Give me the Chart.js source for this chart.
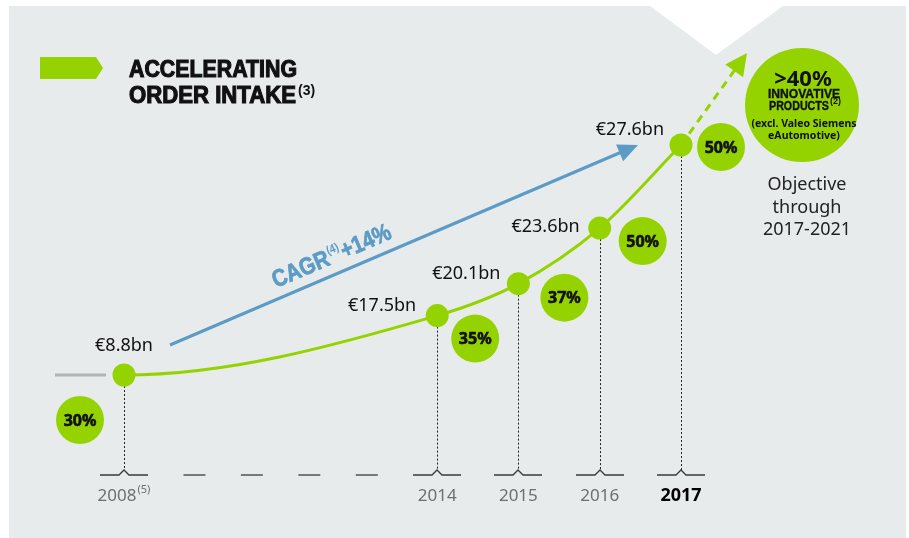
<!DOCTYPE html>
<html>
<head>
<meta charset="utf-8">
<script src="https://cdn.jsdelivr.net/npm/chart.js@4/dist/chart.umd.min.js"></script>
<style>
  html, body { margin: 0; padding: 0; background: #fff; }
  canvas { display: block; }
</style>
</head>
<body>
<canvas id="orderChart" width="909" height="538"></canvas>
<script>
// data
const years = [2008, 2014, 2015, 2016, 2017];
const yearLabels = ['2008', '2014', '2015', '2016', '2017'];
const yearNotes = ['(5)', '', '', '', ''];
const orderIntake = [8.8, 17.5, 20.1, 23.6, 27.6];          // € bn
const innovativeShare = [30, 35, 37, 50, 50];               // % of order intake
const cagr = 14;
const objectiveShare = 40;

const GREEN = '#95d300';
const BLUE = '#5b9bc6';
const BG = '#e8ebec';
const SANS = '"Noto Sans", "Open Sans", sans-serif';
const HEAVY = '"Liberation Sans", "DejaVu Sans", sans-serif';

// label placement next to each point (dx, dy, align) and share bubbles (dx, dy)
const labelOffsets = [[0, -29, 'center'], [-21, -10, 'right'], [-18, -10, 'right'], [-20, -1, 'right'], [-17, -15, 'right']];
const bubbleOffsets = [[-44, 45], [38, 23], [46, 14], [43, 13], [40, 2]];

// the x axis is broken between 2008 and 2014, the y axis is drawn as a power scale
const warps = {
    x: y => y <= 2014 ? (y - 2008) * 0.642 : 3.85 + (y - 2014),
    y: v => Math.pow(v, 2.7)
};

class WarpedScale extends Chart.LinearScale {
    getPixelForValue(value) {
        const f = warps[this.id];
        const a = f(this.min), b = f(this.max);
        return this.getPixelForDecimal((f(value) - a) / (b - a));
    }
}
WarpedScale.id = 'warped';
WarpedScale.defaults = Chart.LinearScale.defaults;
Chart.register(WarpedScale);

function fitText(ctx, text, x, y, width, stroke) {
    const w = ctx.measureText(text).width;
    ctx.save();
    ctx.translate(x, y);
    ctx.scale(width / w, 1);
    ctx.fillText(text, 0, 0);
    if (stroke) {
        ctx.lineWidth = stroke;
        ctx.strokeStyle = ctx.fillStyle;
        ctx.strokeText(text, 0, 0);
    }
    ctx.restore();
}

function arrowHead(ctx, tip, from, len, half) {
    const ang = Math.atan2(tip.y - from.y, tip.x - from.x);
    ctx.beginPath();
    ctx.moveTo(tip.x, tip.y);
    ctx.lineTo(tip.x - len * Math.cos(ang) + half * Math.sin(ang), tip.y - len * Math.sin(ang) - half * Math.cos(ang));
    ctx.lineTo(tip.x - len * Math.cos(ang) - half * Math.sin(ang), tip.y - len * Math.sin(ang) + half * Math.cos(ang));
    ctx.closePath();
    ctx.fill();
}

const decor = {
    id: 'decor',
    beforeDraw(chart) {
        const ctx = chart.ctx;
        ctx.save();
        ctx.fillStyle = '#fff';
        ctx.fillRect(0, 0, chart.width, chart.height);
        ctx.fillStyle = BG;
        ctx.fillRect(9, 6, 897, 532);
        // notch at the top
        ctx.fillStyle = '#fff';
        ctx.beginPath();
        ctx.moveTo(650, 6); ctx.lineTo(716, 55); ctx.lineTo(783, 6);
        ctx.closePath();
        ctx.fill();

        // title badge
        ctx.fillStyle = GREEN;
        ctx.beginPath();
        ctx.moveTo(40, 57); ctx.lineTo(96, 57); ctx.lineTo(103, 68); ctx.lineTo(96, 79); ctx.lineTo(40, 79);
        ctx.closePath();
        ctx.fill();

        ctx.fillStyle = '#111';
        ctx.textAlign = 'left';
        ctx.textBaseline = 'alphabetic';
        ctx.font = 'bold 23px ' + HEAVY;
        fitText(ctx, 'ACCELERATING', 129, 77, 168, 1.1);
        fitText(ctx, 'ORDER INTAKE', 129, 103, 167, 1.1);
        ctx.font = 'bold 14px ' + HEAVY;
        ctx.fillText('(3)', 298, 95);
        ctx.restore();
    },
    beforeDatasetDraw(chart, args) {
        // start the order-intake curve flat out of 2008, as in the original
        const meta = args.meta;
        const line = meta.dataset;
        const pts = meta.data;
        if (!line || pts.length < 2) return;
        line.updateControlPoints(chart.chartArea, 'x');
        pts[0].cp2y = pts[0].y;
        line._path = undefined;
    },
    beforeDatasetsDraw(chart) {
        const ctx = chart.ctx;
        const xs = chart.scales.x;
        const pts = chart.getDatasetMeta(0).data;
        const base = 475;
        ctx.save();

        // dotted drop lines
        ctx.strokeStyle = '#222';
        ctx.lineWidth = 1;
        ctx.setLineDash([2, 2]);
        pts.forEach(p => {
            ctx.beginPath();
            ctx.moveTo(Math.round(p.x) + 0.5, p.y + 11);
            ctx.lineTo(Math.round(p.x) + 0.5, base - 5);
            ctx.stroke();
        });
        ctx.setLineDash([]);

        // baseline ticks with caret
        ctx.strokeStyle = '#3a3a3a';
        ctx.lineWidth = 1.3;
        years.forEach(y => {
            const x = Math.round(xs.getPixelForValue(y));
            ctx.beginPath();
            ctx.moveTo(x - 24, base); ctx.lineTo(x - 5, base); ctx.lineTo(x, base - 5);
            ctx.lineTo(x + 5, base); ctx.lineTo(x + 24, base);
            ctx.stroke();
        });
        // break dashes between 2008 and 2014
        const x0 = xs.getPixelForValue(years[0]) + 24;
        const x1 = xs.getPixelForValue(years[1]) - 24;
        const gap = (x1 - x0 - 4 * 22) / 5;
        for (let i = 0; i < 4; i++) {
            const sx = x0 + gap * (i + 1) + 22 * i;
            ctx.beginPath();
            ctx.moveTo(sx, base); ctx.lineTo(sx + 22, base);
            ctx.stroke();
        }

        // year labels
        ctx.textBaseline = 'alphabetic';
        years.forEach((y, i) => {
            const x = xs.getPixelForValue(y);
            const last = i === years.length - 1;
            ctx.font = (last ? 'bold 18px ' : '17px ') + SANS;
            ctx.fillStyle = last ? '#000' : '#6e6e6e';
            const w = ctx.measureText(yearLabels[i]).width;
            ctx.font = '11px ' + SANS;
            const nw = yearNotes[i] ? ctx.measureText(yearNotes[i]).width + 1 : 0;
            ctx.textAlign = 'left';
            ctx.font = (last ? 'bold 18px ' : '17px ') + SANS;
            ctx.fillText(yearLabels[i], x - (w + nw) / 2, 501);
            if (nw) {
                ctx.font = '11px ' + SANS;
                ctx.fillText(yearNotes[i], x - (w + nw) / 2 + w + 1, 493);
            }
        });

        // grey lead-in line before 2008
        ctx.strokeStyle = '#b4b4b4';
        ctx.lineWidth = 3;
        ctx.beginPath();
        ctx.moveTo(55, pts[0].y); ctx.lineTo(106, pts[0].y);
        ctx.stroke();

        // CAGR arrow
        const a = { x: 170, y: 345 }, b = { x: 638, y: 145 };
        ctx.strokeStyle = BLUE;
        ctx.fillStyle = BLUE;
        ctx.lineWidth = 3;
        const ang = Math.atan2(b.y - a.y, b.x - a.x);
        ctx.beginPath();
        ctx.moveTo(a.x, a.y);
        ctx.lineTo(b.x - 14 * Math.cos(ang), b.y - 14 * Math.sin(ang));
        ctx.stroke();
        arrowHead(ctx, b, a, 20, 9);

        ctx.save();
        ctx.translate(276, 288);
        ctx.rotate(ang);
        ctx.textAlign = 'left';
        ctx.font = 'bold 24px ' + HEAVY;
        const t1 = 'CAGR';
        const w1 = ctx.measureText(t1).width * 0.85;
        fitText(ctx, t1, 0, 0, w1, 0.8);
        ctx.font = 'bold 12px ' + HEAVY;
        const sup = '(4)';
        const ws = ctx.measureText(sup).width * 0.85;
        fitText(ctx, sup, w1 + 1, -10, ws);
        ctx.font = 'bold 24px ' + HEAVY;
        const t2 = '+' + cagr + '%';
        fitText(ctx, t2, w1 + ws + 2, 0, ctx.measureText(t2).width * 0.85, 0.8);
        ctx.restore();

        // dashed projection to the objective
        const p = pts[pts.length - 1];
        const tip = { x: p.x + 66, y: p.y - 92 };
        ctx.strokeStyle = GREEN;
        ctx.fillStyle = GREEN;
        ctx.lineWidth = 3;
        ctx.setLineDash([8, 6]);
        const pa = Math.atan2(tip.y - p.y, tip.x - p.x);
        ctx.beginPath();
        ctx.moveTo(p.x, p.y);
        ctx.lineTo(tip.x - 18 * Math.cos(pa), tip.y - 18 * Math.sin(pa));
        ctx.stroke();
        ctx.setLineDash([]);
        arrowHead(ctx, tip, p, 22, 11);

        // objective bubble
        ctx.beginPath();
        ctx.arc(802, 105, 57, 0, Math.PI * 2);
        ctx.fill();
        ctx.fillStyle = '#111';
        ctx.textAlign = 'center';
        ctx.font = 'bold 22px ' + SANS;
        ctx.fillText('>' + objectiveShare + '%', 803, 86);
        ctx.textAlign = 'left';
        ctx.font = 'bold 13px ' + HEAVY;
        fitText(ctx, 'INNOVATIVE', 768, 98, 72, 0.4);
        fitText(ctx, 'PRODUCTS', 769, 110, 60, 0.4);
        ctx.font = 'bold 9px ' + HEAVY;
        ctx.fillText('(2)', 830, 104);
        ctx.textAlign = 'center';
        ctx.font = 'bold 10.5px ' + SANS;
        ctx.fillText('(excl. Valeo Siemens', 804, 127);
        ctx.fillText('eAutomotive)', 804, 139);

        ctx.fillStyle = '#222';
        ctx.font = '18px ' + SANS;
        ctx.fillText('Objective', 807, 190);
        ctx.fillText('through', 807, 213);
        ctx.fillText('2017-2021', 807, 235);
        ctx.restore();
    },
    afterDatasetsDraw(chart) {
        const ctx = chart.ctx;
        const pts = chart.getDatasetMeta(0).data;
        ctx.save();
        ctx.textBaseline = 'middle';
        pts.forEach((p, i) => {
            const [dx, dy, align] = labelOffsets[i];
            ctx.fillStyle = '#111';
            ctx.textAlign = align;
            ctx.font = '18px ' + SANS;
            ctx.fillText('€' + orderIntake[i].toFixed(1) + 'bn', p.x + dx, p.y + dy);

            const [bx, by] = bubbleOffsets[i];
            ctx.fillStyle = GREEN;
            ctx.beginPath();
            ctx.arc(p.x + bx, p.y + by, 24, 0, Math.PI * 2);
            ctx.fill();
            ctx.fillStyle = '#111';
            ctx.textAlign = 'center';
            ctx.font = 'bold 16px ' + SANS;
            ctx.lineWidth = 0.6;
            ctx.strokeStyle = '#111';
            ctx.fillText(innovativeShare[i] + '%', p.x + bx, p.y + by + 1);
            ctx.strokeText(innovativeShare[i] + '%', p.x + bx, p.y + by + 1);
        });
        ctx.restore();
    }
};

function initChart() {
    const ctx = document.getElementById('orderChart').getContext('2d');
    new Chart(ctx, {
        type: 'line',
        data: {
            datasets: [{
                label: 'Order intake (€bn)',
                data: years.map((y, i) => ({ x: y, y: orderIntake[i] })),
                borderColor: GREEN,
                backgroundColor: GREEN,
                borderWidth: 3,
                pointRadius: 11.5,
                pointHoverRadius: 11.5,
                pointBorderWidth: 0,
                pointBackgroundColor: GREEN,
                cubicInterpolationMode: 'monotone',
                clip: false
            }]
        },
        options: {
            responsive: false,
            devicePixelRatio: 1,
            animation: false,
            events: [],
            layout: { padding: { left: 124, right: 228, top: 145, bottom: 163 } },
            plugins: { legend: { display: false }, tooltip: { enabled: false } },
            scales: {
                x: { type: 'warped', display: false, bounds: 'data', min: years[0], max: years[years.length - 1] },
                y: { type: 'warped', display: false, bounds: 'data', min: Math.min(...orderIntake), max: Math.max(...orderIntake) }
            }
        },
        plugins: [decor]
    });
}

const fontsReady = document.fonts ? Promise.all([
    document.fonts.load('18px "Noto Sans"'),
    document.fonts.load('bold 18px "Noto Sans"'),
    document.fonts.load('bold 23px "Liberation Sans"')
]).catch(() => null) : Promise.resolve();
fontsReady.then(initChart);
</script>
</body>
</html>
